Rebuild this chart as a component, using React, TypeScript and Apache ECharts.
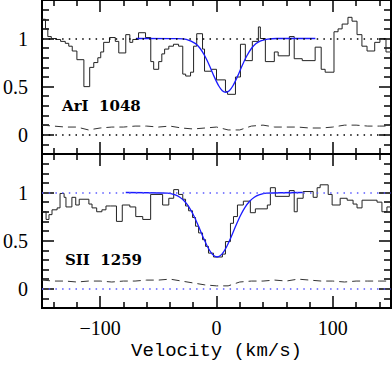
import React, { useEffect, useRef } from "react";
import * as echarts from "echarts";

// ---- ArI 1048 panel ----
const arVel = [-150, -147, -145, -142, -138, -134, -130, -127, -124, -120, -114, -109, -105.5, -102, -99.5, -97, -92, -87, -84, -78, -74.5, -72, -67, -61, -56.5, -54, -49.7, -47, -44.6, -41, -37, -32.6, -29, -26.5, -22.3, -19.7, -17, -12, -10.3, -4.3, 0, 7.7, 9.5, 16.3, 20.6, 24.8, 30.8, 36, 37.7, 42, 49.7, 53, 62.6, 66.8, 73.7, 84.8, 90, 93.4, 101, 104.5, 108, 113, 116.5, 120.8, 125, 129.4, 136, 140.5, 145.7, 150];
const arFlux = [1.2, 1.1, 1.02, 1.0, 0.99, 0.97, 0.95, 0.92, 0.87, 0.78, 0.5, 0.7, 0.75, 0.8, 0.86, 0.96, 1.01, 0.97, 0.85, 1.04, 0.96, 0.99, 1.06, 1.01, 0.76, 0.68, 0.76, 0.84, 0.89, 0.92, 0.94, 0.92, 0.63, 0.61, 0.65, 0.92, 1.05, 0.89, 0.66, 0.68, 0.57, 0.45, 0.42, 0.6, 0.94, 0.77, 0.97, 1.12, 1.0, 0.76, 0.86, 0.82, 1.02, 0.79, 0.77, 0.91, 0.68, 0.65, 1.07, 1.1, 1.15, 1.22, 1.18, 1.04, 0.92, 0.87, 0.96, 1.0, 0.86, 0.86];
const errVel = [-150, -140, -130, -120, -110, -100, -90, -80, -70, -60, -50, -40, -30, -20, -10, 0, 10, 20, 30, 40, 50, 60, 70, 80, 90, 100, 110, 120, 130, 140, 150];
const arErr = [0.1, 0.09, 0.08, 0.08, 0.05, 0.07, 0.08, 0.08, 0.09, 0.09, 0.08, 0.09, 0.07, 0.06, 0.07, 0.08, 0.05, 0.05, 0.09, 0.1, 0.08, 0.08, 0.08, 0.07, 0.07, 0.08, 0.1, 0.1, 0.09, 0.09, 0.09];
const arFitVel = [-69, -34, -26, -18, -14, -10, -6, -2, 2, 5, 8, 11, 14, 18, 22, 26, 30, 34, 38, 44, 52, 85];
const arFit = [1.0, 0.998, 0.99, 0.947, 0.896, 0.818, 0.717, 0.604, 0.506, 0.457, 0.44, 0.457, 0.506, 0.604, 0.717, 0.818, 0.896, 0.947, 0.975, 0.994, 1.0, 1.0];

// ---- SII 1259 panel ----
const sVel = [-150, -146.5, -144, -141.4, -137, -134.5, -131, -129.4, -124.3, -121, -118, -109.7, -107, -103, -98.5, -95, -91, -86, -81, -74.5, -69.4, -63.4, -56.6, -46.3, -41, -36.8, -32.6, -29, -26.6, -24, -20.6, -18, -15.4, -12, -9.4, -6.9, -2.6, 5.1, 7.7, 12, 14.6, 18, 23.1, 29.1, 33.4, 43.7, 46.3, 50.6, 62.6, 66.8, 69.4, 74.5, 83.1, 86.5, 89.1, 96, 99.4, 106.3, 112.3, 117.4, 120.8, 125.1, 138, 142.2, 146.5, 150];
const sFlux = [0.8, 0.72, 0.77, 0.82, 0.84, 0.99, 0.95, 0.85, 0.95, 0.87, 0.93, 0.88, 0.84, 0.8, 0.82, 0.86, 0.86, 0.7, 0.87, 0.85, 0.75, 0.72, 0.98, 0.87, 0.94, 1.03, 0.98, 0.93, 0.86, 0.81, 0.74, 0.65, 0.58, 0.51, 0.44, 0.37, 0.33, 0.36, 0.49, 0.68, 0.75, 0.87, 0.91, 0.79, 0.83, 0.87, 1.05, 0.96, 1.02, 0.8, 0.94, 1.01, 0.95, 1.05, 1.08, 0.98, 0.87, 0.94, 0.92, 0.88, 0.84, 0.92, 0.9, 0.8, 0.85, 0.85];
const sErr = [0.09, 0.08, 0.08, 0.07, 0.08, 0.08, 0.07, 0.08, 0.08, 0.09, 0.09, 0.1, 0.08, 0.06, 0.04, 0.03, 0.03, 0.07, 0.08, 0.08, 0.09, 0.08, 0.1, 0.09, 0.08, 0.08, 0.07, 0.08, 0.08, 0.08, 0.08];
const sFitVel = [-78, -42, -35.5, -31.5, -27.5, -23.5, -19.5, -15.5, -11.5, -7.5, -3.5, 0.5, 4.5, 8.5, 12.5, 16.5, 20.5, 24.5, 28.5, 32.5, 36.5, 43, 74];
const sFit = [1.0, 0.993, 0.975, 0.951, 0.909, 0.846, 0.759, 0.651, 0.536, 0.431, 0.357, 0.33, 0.357, 0.431, 0.536, 0.651, 0.759, 0.846, 0.909, 0.951, 0.975, 0.993, 1.0];

// ---- ticks ----
const xMajorTicks = [-100, 0, 100];
const xMinorTicks = [-140, -120, -80, -60, -40, -20, 20, 40, 60, 80, 120, 140];
const yMajorTicks = [0, 0.5, 1];
const yMinorTicks = [-0.1, 0.1, 0.2, 0.3, 0.4, 0.6, 0.7, 0.8, 0.9, 1.1, 1.2, 1.3];
const panelLabels = ["ArI  1048", "SII  1259"];

const zip = (a: number[], b: number[]) => a.map((v, i) => [v, b[i]]);

export default function App() {
  const ref = useRef<HTMLDivElement>(null);
  useEffect(() => {
    if (!ref.current) return;
    const chart = echarts.init(ref.current, null, { renderer: "svg" });
    const serif = "'Liberation Serif', 'Times New Roman', serif";

    const mkX = (grid: number, pos: string, major: boolean, labels: boolean, name?: string) => ({
      type: "value",
      gridIndex: grid,
      position: pos,
      min: -150,
      max: 150,
      axisLine: { show: false, onZero: false },
      splitLine: { show: false },
      axisTick: {
        show: true,
        inside: true,
        length: major ? 12 : 6,
        customValues: major ? xMajorTicks : xMinorTicks,
        lineStyle: { color: "#000", width: 1.5 },
      },
      axisLabel: {
        show: labels,
        customValues: xMajorTicks,
        margin: 10,
        fontFamily: serif,
        fontSize: 20,
        color: "#000",
        formatter: (v: number) => (v < 0 ? "\u2212" + Math.abs(v) : String(v)),
      },
      name: name || "",
      nameLocation: "middle",
      nameGap: 33,
      nameTextStyle: { fontFamily: "'Liberation Mono', monospace", fontSize: 19, color: "#000" },
    });
    const mkY = (grid: number, pos: string, major: boolean, labels: boolean) => ({
      type: "value",
      gridIndex: grid,
      position: pos,
      min: -0.2,
      max: 1.4,
      axisLine: { show: false, onZero: false },
      splitLine: { show: false },
      axisTick: {
        show: true,
        inside: true,
        length: major ? 12 : 7,
        customValues: major ? yMajorTicks : yMinorTicks,
        lineStyle: { color: "#000", width: 1.5 },
      },
      axisLabel: {
        show: labels,
        customValues: yMajorTicks,
        margin: 14,
        fontFamily: serif,
        fontSize: 20,
        color: "#000",
      },
    });

    const xAxes: any[] = [];
    const yAxes: any[] = [];
    for (let g = 0; g < 2; g++) {
      xAxes.push(mkX(g, "bottom", true, g === 1, g === 1 ? "Velocity (km/s)" : ""));
      xAxes.push(mkX(g, "bottom", false, false));
      xAxes.push(mkX(g, "top", true, false));
      xAxes.push(mkX(g, "top", false, false));
      yAxes.push(mkY(g, "left", true, true));
      yAxes.push(mkY(g, "left", false, false));
      yAxes.push(mkY(g, "right", true, false));
      yAxes.push(mkY(g, "right", false, false));
    }

    const panel = (g: number, vel: number[], flux: number[], err: number[], fitV: number[], fit: number[], refColor: string) => [
      {
        type: "line",
        xAxisIndex: g * 4,
        yAxisIndex: g * 4,
        data: zip(vel, flux),
        step: "end",
        symbol: "none",
        lineStyle: { color: "#222", width: 1 },
        markLine: {
          silent: true,
          symbol: "none",
          label: { show: false },
          lineStyle: { color: refColor, width: 1.5, type: [1.5, 5.2] },
          data: [{ yAxis: 1 }, { yAxis: 0 }],
        },
        z: 2,
      },
      {
        type: "line",
        xAxisIndex: g * 4,
        yAxisIndex: g * 4,
        data: zip(errVel, err),
        symbol: "none",
        lineStyle: { color: "#333", width: 1, type: [8, 5] },
        z: 2,
      },
      {
        type: "line",
        xAxisIndex: g * 4,
        yAxisIndex: g * 4,
        data: zip(fitV, fit),
        symbol: "none",
        smooth: 0.3,
        lineStyle: { color: "#1a1aff", width: 1.3 },
        z: 3,
      },
    ];

    chart.setOption({
      animation: false,
      backgroundColor: "#fff",
      grid: [
        { left: 41, right: 1, top: 0, height: 154, show: true, borderColor: "#000", borderWidth: 2, backgroundColor: "transparent" },
        { left: 41, right: 1, top: 154, height: 154, show: true, borderColor: "#000", borderWidth: 2, backgroundColor: "transparent" },
      ],
      xAxis: xAxes,
      yAxis: yAxes,
      series: [
        ...panel(0, arVel, arFlux, arErr, arFitVel, arFit, "#000"),
        ...panel(1, sVel, sFlux, sErr, sFitVel, sFit, "#5a5aff"),
      ],
      graphic: [
        { type: "text", left: 62, top: 98, style: { text: panelLabels[0], font: "bold 15px 'DejaVu Serif', serif", fill: "#000" } },
        { type: "text", left: 65, top: 252, style: { text: panelLabels[1], font: "bold 15px 'DejaVu Serif', serif", fill: "#000" } },
      ],
    });
    return () => chart.dispose();
  }, []);
  return <div ref={ref} style={{ position: "fixed", left: 0, top: 0, width: 392, height: 366 }} />;
}
